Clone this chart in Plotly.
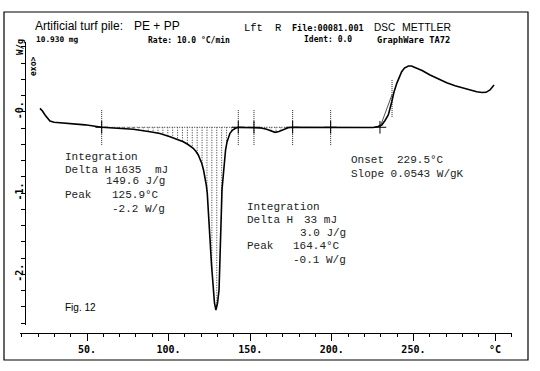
import numpy as np
import plotly.graph_objects as go

# ---------------- data ----------------
temp_c = [21.2, 22.7, 24.3, 26.1, 27.3, 29.8, 32.4, 39.6, 48.8, 59.0, 67.2, 78.4,
          88.6, 94.7, 100.9, 105.1, 109.0, 111.9, 115.1, 116.8, 118.2, 119.2, 120.3,
          121.4, 122.3, 123.1, 123.7, 124.6, 125.4, 126.3, 127.2, 128.1, 129.0,
          129.96, 130.9, 131.5, 132.0, 132.3, 132.7, 133.5, 134.1, 134.9, 135.8,
          136.7, 137.6, 139.2, 140.7, 142.7, 147.4, 152.3, 156.0, 160.1, 162.7,
          165.2, 167.6, 170.3, 173.2, 176.0, 186.6, 199.3, 214.2, 225.4, 228.3,
          230.6, 232.6, 234.6, 236.7, 238.1, 239.8, 241.2, 242.8, 244.5, 246.9,
          248.8, 251.0, 255.3, 260.2, 265.1, 270.4, 275.5, 280.6, 284.7, 288.8,
          292.0, 294.5, 296.9, 299.4]
heat_flow_wg = [0.042, 0.009, -0.040, -0.089, -0.114, -0.130, -0.135, -0.146, -0.161,
                -0.190, -0.198, -0.216, -0.246, -0.268, -0.307, -0.335, -0.369, -0.403,
                -0.450, -0.489, -0.532, -0.582, -0.634, -0.717, -0.799, -0.902, -1.004,
                -1.250, -1.578, -1.886, -2.194, -2.354, -2.440, -2.354, -2.194, -1.886,
                -1.578, -1.250, -0.963, -0.757, -0.594, -0.471, -0.372, -0.305, -0.265,
                -0.225, -0.206, -0.192, -0.191, -0.191, -0.198, -0.216, -0.237, -0.253,
                -0.243, -0.216, -0.196, -0.191, -0.191, -0.193, -0.196, -0.194, -0.182,
                -0.163, -0.108, -0.040, 0.120, 0.243, 0.350, 0.428, 0.493, 0.538, 0.563,
                0.563, 0.547, 0.508, 0.452, 0.403, 0.358, 0.319, 0.289, 0.264, 0.247,
                0.237, 0.239, 0.268, 0.329]

limit_T = [59.0, 142.7, 152.3, 176.0, 199.3]      # integration / evaluation limits
baseline_wg = -0.191
onset_T = 229.5
onset_slope = 0.0543
inflection_T = 236.9

x_tick_vals = [50, 100, 150, 200, 250, 300]
x_tick_text = ["50.", "100.", "150.", "200.", "250.", "°C"]
y_tick_vals = [0, -1, -2]
y_tick_text = ["-0.", "-1.", "-2."]

# ---------------- layout geometry ----------------
W, H = 540, 371
L, R, T, B = 20, 512, 42, 333           # plot area in pixels
X_RANGE = [8.95, 310.4]
Y_BOTTOM_PX = 325
Y_RANGE = [-2.6246, 0.8585]


def px(xp):
    return (xp - L) / (R - L)


def py(yp):
    return (B - yp) / (B - T)


MONO = "Liberation Mono, DejaVu Sans Mono, monospace"
BMONO = "DejaVu Sans Mono, Liberation Mono, monospace"
SANS = "Liberation Sans, Arial, sans-serif"

fig = go.Figure()

# hatch lines of the integrations
def hatch(t0, t1, step):
    xs, ys = [], []
    for t in np.arange(t0, t1, step):
        w = float(np.interp(t, temp_c, heat_flow_wg))
        xs += [t, t, None]
        ys += [baseline_wg, w, None]
    return xs, ys

hx1, hy1 = hatch(limit_T[0] + 1.5, limit_T[1], 3.0)
hx2, hy2 = hatch(limit_T[2] + 1.5, limit_T[3], 3.0)
fig.add_trace(go.Scatter(x=hx1 + hx2, y=hy1 + hy2, mode="lines",
                         line=dict(color="#333", width=1, dash="1px,1.5px"),
                         hoverinfo="skip"))
# integration baselines
fig.add_trace(go.Scatter(x=[limit_T[0], limit_T[1], None, limit_T[2], limit_T[3]],
                         y=[baseline_wg, baseline_wg, None, baseline_wg, baseline_wg],
                         mode="lines", line=dict(color="#333", width=1, dash="1px,1.5px"),
                         hoverinfo="skip"))
# vertical limit markers
vx, vy = [], []
for t in limit_T:
    vx += [t, t, None]
    vy += [0.02, -0.41, None]
vx += [inflection_T, inflection_T, None]
vy += [0.39, -0.065, None]
fig.add_trace(go.Scatter(x=vx, y=vy, mode="lines",
                         line=dict(color="#222", width=1, dash="1px,1px"), hoverinfo="skip"))
# onset tangent
fig.add_trace(go.Scatter(x=[onset_T, inflection_T],
                         y=[baseline_wg, baseline_wg + onset_slope * (inflection_T - onset_T)],
                         mode="lines", line=dict(color="#222", width=0.8), hoverinfo="skip"))
# DSC curve
fig.add_trace(go.Scatter(x=temp_c, y=heat_flow_wg, mode="lines",
                         line=dict(color="black", width=1.6), hoverinfo="skip"))
# "+" crosses
fig.add_trace(go.Scatter(x=limit_T + [onset_T], y=[baseline_wg] * (len(limit_T) + 1),
                         mode="markers",
                         marker=dict(symbol="cross-thin", size=9,
                                     line=dict(color="black", width=1)),
                         hoverinfo="skip"))

annotations = []


def txt(s, xp, yp, size, family, color="black", anchor="left", weight="normal", angle=0):
    annotations.append(dict(text=s, x=px(xp), y=py(yp), xref="paper", yref="paper",
                            xanchor=anchor, yanchor="middle", showarrow=False,
                            textangle=angle,
                            font=dict(size=size, family=family, color=color, weight=weight)))


# header
txt("Artificial turf pile:", 33, 26, 12, SANS)
txt("PE + PP", 132, 26, 12, SANS)
txt("Lft", 242, 28, 10.5, MONO)
txt("R", 273, 28, 10.5, MONO)
txt("File:00081.001", 290, 28.5, 8.5, BMONO, weight="bold")
txt("DSC", 372, 27.5, 10, SANS)
txt("METTLER", 400, 27.5, 10.5, SANS)
txt("10.930 mg", 34, 39.5, 7.8, BMONO, weight="bold")
txt("Rate: 10.0 °C/min", 146, 39.5, 8, BMONO, weight="bold")
txt("Ident: 0.0", 302, 39.5, 8, BMONO, weight="bold")
txt("GraphWare TA72", 375, 39.5, 8.7, BMONO, weight="bold")
# axis unit labels
txt("W/g", 20, 47, 9, BMONO, weight="bold", anchor="center", angle=-90)
txt("exo>", 33, 67, 8, BMONO, weight="bold", anchor="center", angle=-90)

# integration 1
C = "#222"
txt("Integration", 63, 157, 11, MONO, C)
txt("Delta H", 63, 170, 11, MONO, C)
txt("1635", 113, 170, 11, MONO, C)
txt("mJ", 153, 170, 11, MONO, C)
txt("149.6 J/g", 167, 181, 11, MONO, C, anchor="right")
txt("Peak", 63, 195, 11, MONO, C)
txt("125.9°C", 110, 195, 11, MONO, C)
txt("-2.2 W/g", 167, 208.5, 11, MONO, C, anchor="right")

# integration 2
txt("Integration", 245, 207, 11, MONO, C)
txt("Delta H", 245, 219.5, 11, MONO, C)
txt("33 mJ", 339, 219.5, 11, MONO, C, anchor="right")
txt("3.0 J/g", 348, 233, 11, MONO, C, anchor="right")
txt("Peak", 245, 246, 11, MONO, C)
txt("164.4°C", 291, 246, 11, MONO, C)
txt("-0.1 W/g", 348, 259.5, 11, MONO, C, anchor="right")

# onset
txt("Onset", 349, 160, 11, MONO, C)
txt("229.5°C", 395, 160, 11, MONO, C)
txt("Slope 0.0543 W/gK", 349, 174, 11, MONO, C)

txt("Fig. 12", 63, 307, 10, SANS)

shapes = [dict(type="rect", xref="paper", yref="paper",
               x0=px(4), x1=px(528), y0=py(360), y1=py(12),
               line=dict(color="black", width=1.2), fillcolor="rgba(0,0,0,0)")]

fig.update_layout(
    width=W, height=H,
    margin=dict(l=L, r=W - R, t=T, b=H - B, pad=0),
    paper_bgcolor="white", plot_bgcolor="white",
    showlegend=False,
    annotations=annotations,
    shapes=shapes,
    xaxis=dict(range=X_RANGE, anchor="free", position=0,
               showline=True, linecolor="black", linewidth=1,
               showgrid=False, zeroline=False,
               ticks="outside", ticklen=7, tickwidth=1, tickcolor="black",
               tickvals=x_tick_vals, ticktext=x_tick_text,
               tickfont=dict(family=BMONO, size=10, color="black", weight="bold"),
               minor=dict(dtick=10, tick0=0, ticks="outside", ticklen=3,
                          tickcolor="black", tickwidth=1, showgrid=False)),
    yaxis=dict(range=Y_RANGE, domain=[(B - Y_BOTTOM_PX) / (B - T), 1],
               anchor="free", position=px(25),
               showline=True, linecolor="black", linewidth=1,
               showgrid=False, zeroline=False,
               ticks="outside", ticklen=4, tickwidth=1, tickcolor="black",
               tickvals=y_tick_vals, ticktext=y_tick_text, tickangle=-90,
               ticklabelstandoff=-6,
               tickfont=dict(family=BMONO, size=10, color="black", weight="bold"),
               minor=dict(dtick=0.2, tick0=0, ticks="outside", ticklen=4,
                          tickcolor="black", tickwidth=1, showgrid=False)),
)

fig.write_html("out.html", config={"displayModeBar": False},
               post_script="document.body.style.margin='0';document.body.style.overflow='hidden';")
